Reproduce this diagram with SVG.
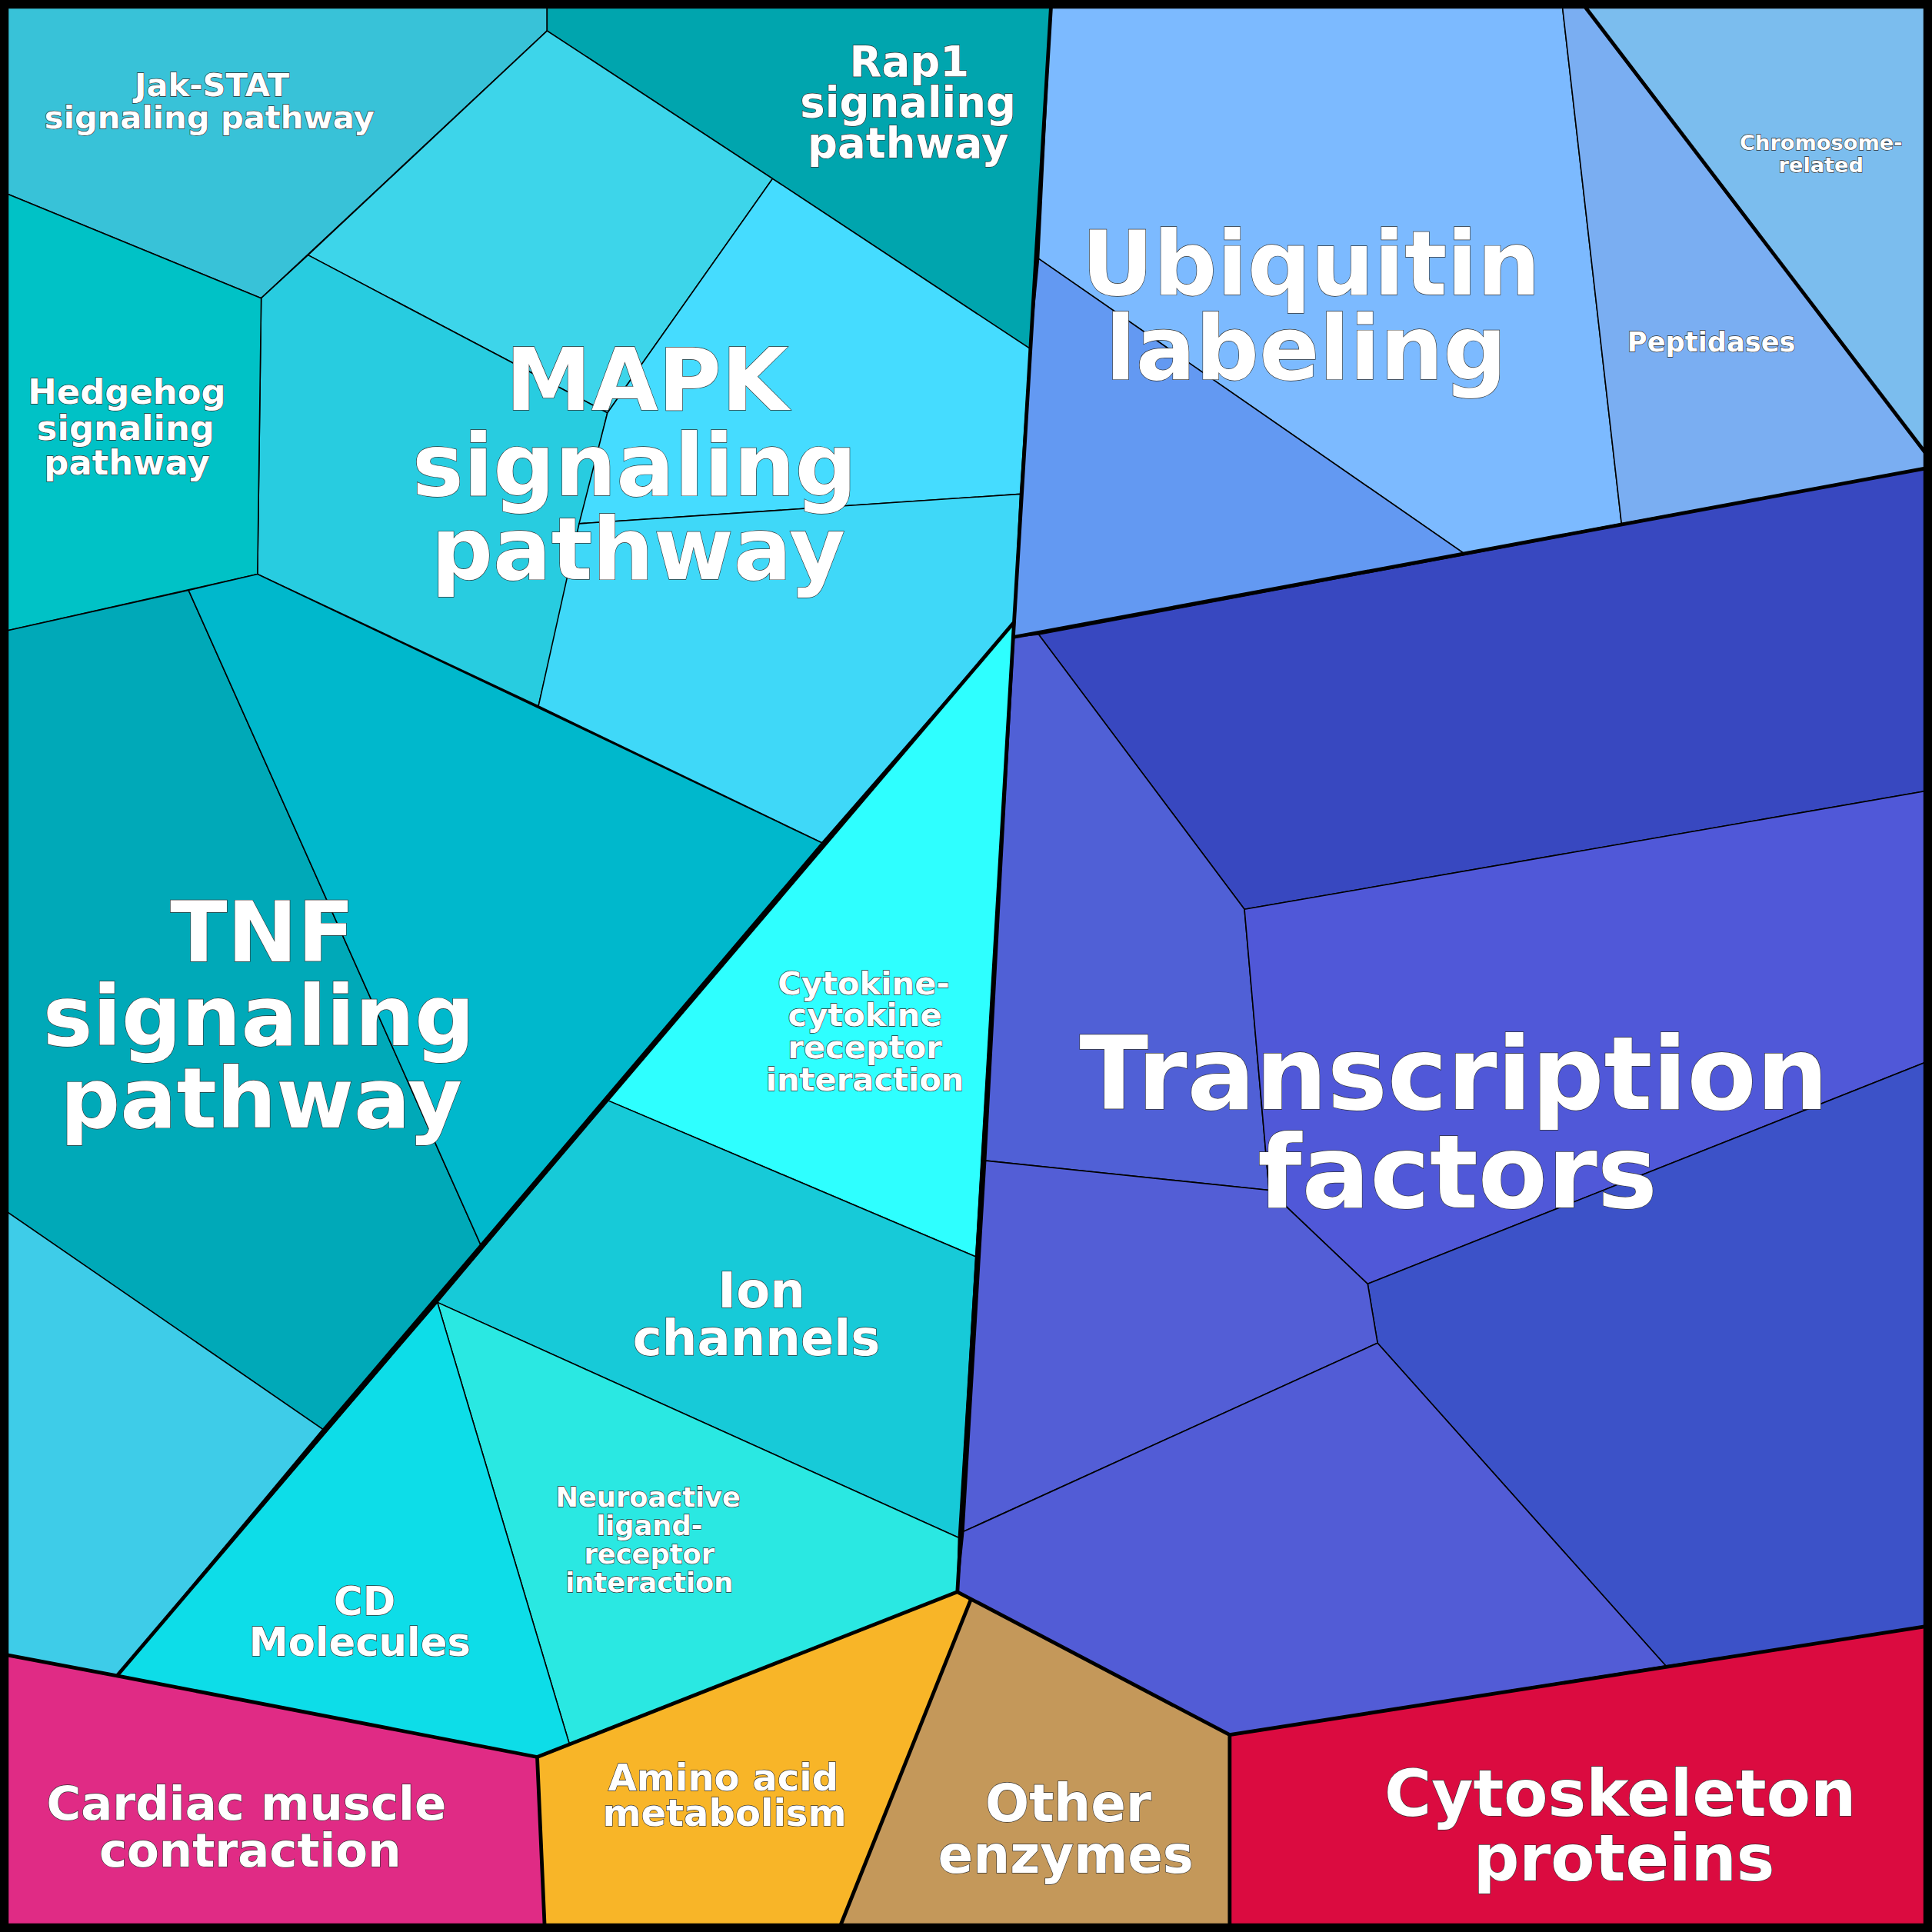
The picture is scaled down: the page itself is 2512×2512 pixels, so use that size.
<svg xmlns="http://www.w3.org/2000/svg" width="2512" height="2512" viewBox="0 0 2512 2512">
<style>
.c{stroke:#000;stroke-width:1}
.b{fill:none;stroke:#000;stroke-width:3;stroke-linejoin:round}
text{font-family:"DejaVu Sans",sans-serif;font-weight:bold;fill:#fff;text-anchor:middle;stroke:#333;stroke-width:0.8;paint-order:stroke}
</style>
<rect width="2512" height="2512" fill="#000"/>
<g transform="scale(1.60204)">
<g id="jak"><polygon class="c" fill="#38c2d8" points="5,5 444,5 444,25 212,242 5,157"/><text font-size="26" x="172" y="78">Jak-STAT</text><text font-size="26" x="170" y="104">signaling pathway</text></g>
<g id="rap1"><polygon class="c" fill="#00a5ae" points="444,5 853,5 836,283 627,145 444,25"/><text font-size="34" x="738" y="62">Rap1</text><text font-size="34" x="737" y="95">signaling</text><text font-size="34" x="737" y="128">pathway</text></g>
<g id="mapk">
<polygon class="c" fill="#3dd5ea" points="250,207 444,25 627,145 493,335"/>
<polygon class="c" fill="#28cce0" points="212,242 250,207 493,335 437,573 209,466"/>
<polygon class="c" fill="#45dcff" points="627,145 836,283 828,401 470,425 493,335"/>
<polygon class="c" fill="#3fd8f8" points="470,425 828,401 823,505 667,684 437,573"/>
<text font-size="70" x="525" y="333">MAPK</text><text font-size="70" x="515" y="402">signaling</text><text font-size="70" x="518" y="470">pathway</text></g>
<g id="hedgehog"><polygon class="c" fill="#00c2c6" points="5,157 212,242 209,466 5,512"/><text font-size="28" x="103" y="328">Hedgehog</text><text font-size="28" x="102" y="357">signaling</text><text font-size="28" x="103" y="385">pathway</text></g>
<g id="tnf">
<polygon class="c" fill="#00a9b8" points="5,512 153,479 390,1010 262,1160 5,983"/>
<polygon class="c" fill="#00b8cc" points="153,479 209,466 667,684 390,1010"/>
<polygon class="c" fill="#3ecce8" points="5,983 262,1160 95,1360 5,1343"/>
<text font-size="68" x="213" y="780">TNF</text><text font-size="68" x="210" y="848">signaling</text><text font-size="68" x="212" y="915">pathway</text></g>
<g id="cytokine"><polygon class="c" fill="#2effff" points="823,505 493,893 792,1020"/><text font-size="26" x="701" y="807">Cytokine-</text><text font-size="26" x="702" y="833">cytokine</text><text font-size="26" x="702" y="859">receptor</text><text font-size="26" x="702" y="885">interaction</text></g>
<g id="ion"><polygon class="c" fill="#17cad8" points="493,893 792,1020 778,1248 355,1057"/><text font-size="40" x="618" y="1061">Ion</text><text font-size="40" x="614" y="1100">channels</text></g>
<g id="neuro"><polygon class="c" fill="#2ae8e2" points="355,1057 778,1248 777,1292 462,1415"/><text font-size="22" x="526" y="1223">Neuroactive</text><text font-size="22" x="527" y="1246">ligand-</text><text font-size="22" x="527" y="1269">receptor</text><text font-size="22" x="527" y="1292">interaction</text></g>
<g id="cd"><polygon class="c" fill="#0ddde8" points="355,1057 462,1415 436,1426 95,1360"/><text font-size="32" x="296" y="1311">CD</text><text font-size="32" x="292" y="1344">Molecules</text></g>
<g id="cardiac"><polygon class="c" fill="#e02b85" points="5,1343 95,1360 436,1426 442,1563 5,1563"/><text font-size="38" x="200" y="1477">Cardiac muscle</text><text font-size="38" x="203" y="1515">contraction</text></g>
<g id="amino"><polygon class="c" fill="#f8b528" points="436,1426 777,1292 788,1298 682,1563 442,1563"/><text font-size="30" x="587" y="1453">Amino acid</text><text font-size="30" x="588" y="1482">metabolism</text></g>
<g id="other"><polygon class="c" fill="#c4985a" points="788,1298 998,1408 998,1563 682,1563"/><text font-size="42" x="867" y="1478">Other</text><text font-size="42" x="865" y="1520">enzymes</text></g>
<g id="cyto"><polygon class="c" fill="#db0b40" points="998,1408 1563,1320 1563,1563 998,1563"/><text font-size="52" x="1315" y="1474">Cytoskeleton</text><text font-size="52" x="1318" y="1526">proteins</text></g>
<g id="ubiq">
<polygon class="c" fill="#7cbaff" points="853,5 1268,5 1316,425 1188,449 843,210"/>
<polygon class="c" fill="#6399f2" points="843,210 1188,449 823,517 836,283"/>
<text font-size="72" x="1064" y="239">Ubiquitin</text><text font-size="72" x="1060" y="308">labeling</text></g>
<g id="pept"><polygon class="c" fill="#7aaef2" points="1268,5 1286,5 1563,368 1563,380 1316,425"/><text font-size="22" x="1389" y="285">Peptidases</text></g>
<g id="chrom"><polygon class="c" fill="#7bbdee" points="1286,5 1563,5 1563,368"/><text font-size="17" x="1478" y="122">Chromosome-</text><text font-size="17" x="1478" y="140">related</text></g>
<g id="tf">
<polygon class="c" fill="#3848c0" points="843,515 1563,380 1563,642 1010,738"/>
<polygon class="c" fill="#5060d6" points="823,517 843,515 1010,738 1030,966 800,942"/>
<polygon class="c" fill="#5058d8" points="1010,738 1563,642 1563,862 1110,1042 1030,966"/>
<polygon class="c" fill="#3c52c8" points="1110,1042 1563,862 1563,1320 1352,1352 1118,1090"/>
<polygon class="c" fill="#535ed6" points="800,942 1030,966 1110,1042 1118,1090 782,1243"/>
<polygon class="c" fill="#525cd6" points="782,1243 1118,1090 1352,1352 998,1408 788,1298 777,1292"/>
<text font-size="82" x="1180" y="900">Transcription</text><text font-size="82" x="1183" y="980">factors</text></g>
<g id="connectors">
<path class="b" d="M853,5 L823,505 L777,1292 L998,1408 L1563,1320 M823,505 L95,1360 L5,1343 M95,1360 L436,1426 L777,1292 M436,1426 L442,1563 M788,1298 L682,1563 M998,1408 L998,1563 M823,517 L1563,380 M1286,5 L1563,368"/>
<rect x="4" y="4" width="1560" height="1560" fill="none" stroke="#000" stroke-width="6"/>
</g>
</g>
</svg>
